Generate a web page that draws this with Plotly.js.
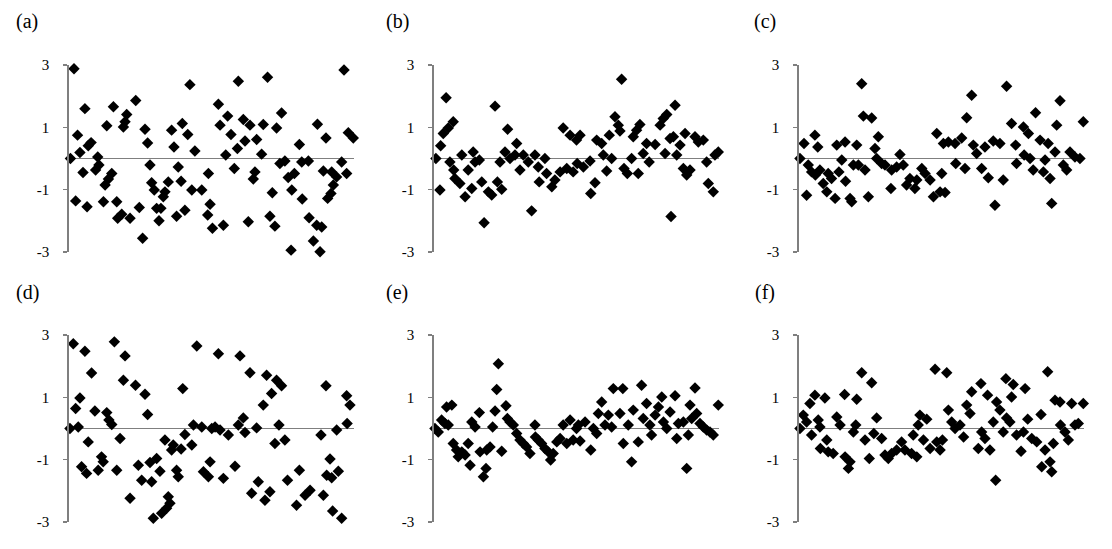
<!DOCTYPE html>
<html>
<head>
<meta charset="utf-8">
<script src="https://cdn.plot.ly/plotly-3.0.1.min.js"></script>
<style>html,body{margin:0;padding:0;background:#fff;}#chart{width:1112px;height:549px;}</style>
</head>
<body>
<div id="chart"></div>
<script>
// ---------- data (sample index, standardized residual) ----------
const panelLabels = ['(a)', '(b)', '(c)', '(d)', '(e)', '(f)'];
const tickVals = [3, 1, -1, -3];
const tickText = ['3', '1', '-1', '-3'];

const aX = [0.6,2.1,2.8,3.6,4.6,5.9,6.7,7.6,8.1,9.3,11.2,12.1,12.6,14.5,15.2,15.9,16.6,18.0,18.7,20.1,20.5,22.2,22.9,23.6,24.3,25.7,28.1,29.6,31.0,32.0,33.1,34.1,34.8,35.9,36.9,37.9,38.7,39.7,40.4,41.8,43.2,44.2,45.3,46.0,47.2,47.7,48.8,50.0,50.9,51.7,53.0,55.9,58.4,58.7,59.4,60.4,62.9,63.6,65.0,66.0,66.8,68.2,69.6,70.9,71.3,73.4,74.1,75.5,76.2,77.6,78.3,79.0,81.1,81.8,83.6,84.6,85.6,86.7,87.4,88.8,89.5,90.9,92.3,93.5,93.8,94.9,97.0,98.0,98.2,100.8,101.1,102.9,104.3,104.6,105.7,106.4,107.1,108.2,108.9,110.3,110.6,111.3,112.7,114.8,115.8,116.9,117.6,119.7,120.4];
const aY = [0.00,2.88,-1.36,0.75,0.19,-0.45,1.60,-1.55,0.41,0.51,-0.37,0.05,-0.21,-1.39,-0.85,1.05,-0.66,-0.48,1.66,-1.39,-1.92,-1.79,1.01,1.18,1.41,-1.92,1.86,-1.57,-2.56,0.94,0.50,-0.21,-0.78,-1.01,-1.60,-2.00,-1.60,-1.23,-1.07,-0.75,0.91,0.37,-1.85,-0.27,-0.73,1.12,-1.66,0.77,2.37,-1.01,0.24,-1.01,-1.81,-0.48,-1.47,-2.24,1.74,1.07,-2.14,0.11,1.36,0.77,-0.32,0.32,2.48,1.25,0.56,-2.03,1.07,-0.66,-0.43,0.61,0.14,1.09,2.61,-1.85,-1.10,-2.17,0.98,-0.16,1.46,-0.08,-0.61,-2.94,-1.01,-0.48,0.45,-0.11,-1.30,-0.08,-1.90,-2.65,-2.14,1.10,-2.99,-2.20,-0.40,0.66,-1.28,-1.12,-0.43,-0.85,-0.59,-0.11,2.84,-0.48,0.83,0.66,-0.85];

const bX = [0.8,2.5,2.8,3.9,5.1,6.0,6.7,8.1,8.3,8.8,10.9,11.7,13.1,14.4,15.9,16.5,17.3,19.1,20.1,21.1,22.9,24.3,25.7,26.7,27.8,28.5,29.9,31.0,32.0,34.1,34.8,36.2,37.6,39.7,41.1,42.5,43.9,44.3,46.7,47.4,49.6,50.9,53.1,54.4,55.9,57.3,58.6,60.0,60.3,61.5,62.9,65.7,66.0,67.8,68.5,70.6,71.3,72.7,73.8,74.8,76.2,77.6,78.3,79.0,80.0,81.4,83.2,83.9,85.3,86.0,86.7,88.1,89.5,90.6,93.1,95.2,96.5,97.3,98.0,99.4,99.8,100.8,101.5,102.2,103.6,105.0,105.7,106.4,107.8,109.9,111.3,113.4,114.8,115.5,117.6,118.3,119.7,120.4,121.1];
const bY = [0.00,-1.01,0.41,0.80,1.95,0.98,-0.11,1.18,-0.37,-0.64,-0.80,0.11,-1.23,-0.37,-0.96,0.21,-0.11,-0.05,-0.75,-2.06,-1.07,-1.17,1.68,-0.75,-0.11,-0.99,0.21,0.94,0.00,0.11,0.48,-0.37,0.11,-0.11,-1.68,0.11,-0.27,-0.75,0.00,-0.48,-0.91,-0.69,-0.43,0.98,-0.32,0.75,-0.43,0.59,-0.16,0.75,-0.27,-0.08,-1.12,-0.78,0.59,0.48,0.11,-0.40,0.75,0.00,1.34,1.07,0.88,2.54,-0.32,-0.48,0.00,0.70,0.91,-0.48,1.09,0.16,0.48,-0.11,0.45,1.07,1.28,0.16,1.41,0.64,-1.86,0.70,1.71,0.11,0.43,-0.32,0.80,-0.53,-0.37,0.70,0.53,0.59,-0.11,-0.80,-1.07,0.11,0.21,-0.21,-0.08];

const cX = [0.4,2.1,3.2,3.9,5.3,6.7,6.9,7.9,8.8,10.2,11.7,12.3,13.7,15.2,15.9,16.8,18.0,19.4,19.6,21.5,22.2,22.9,24.3,25.0,26.4,27.1,27.8,29.2,30.6,32.0,32.7,33.4,34.8,36.2,38.7,39.0,41.1,42.5,43.9,45.3,46.7,48.8,49.6,51.7,53.1,55.2,56.6,58.0,59.4,60.1,60.8,61.5,62.9,65.7,66.0,68.5,69.9,70.6,72.7,73.4,74.8,76.9,78.3,79.7,81.8,82.5,84.6,86.0,87.4,89.5,91.2,91.6,94.5,94.8,96.6,97.3,98.6,99.6,101.5,102.9,103.6,104.9,105.7,106.4,107.8,108.5,109.9,111.3,112.7,114.1,116.2,118.3,119.7,120.7];
const cY = [0.00,0.48,-1.18,-0.21,-0.43,0.75,-0.53,0.37,-0.37,-0.80,-1.07,-0.48,-0.64,-1.28,0.43,-0.43,-0.05,0.53,-0.73,-1.28,-1.39,-0.21,0.43,-0.21,2.40,1.36,-0.37,-1.23,1.30,0.32,0.00,0.70,-0.16,-0.21,-0.96,-0.37,-0.27,0.13,-0.21,-0.85,-0.64,-0.96,-0.69,-0.32,-0.48,-0.69,-1.23,0.80,-1.07,-0.48,0.48,-1.09,0.53,0.48,-0.16,0.66,-0.32,1.31,2.03,0.43,0.16,-0.32,0.37,-0.62,0.56,-1.50,0.48,-0.69,2.32,1.12,0.43,-0.16,1.01,0.11,0.80,0.00,-0.37,1.47,0.59,-0.43,-0.05,0.48,-0.64,-1.44,0.21,1.07,1.85,-0.21,-0.37,0.21,0.05,0.00,1.18,-0.43];

const dX = [0.4,1.8,2.8,3.9,4.6,5.3,6.7,7.4,8.1,9.5,10.9,12.3,13.7,14.4,15.9,16.8,18.0,19.1,20.1,21.5,22.9,23.6,25.7,28.0,29.2,30.6,32.0,33.1,34.1,34.8,35.5,36.9,38.3,39.0,40.4,41.1,41.8,42.5,43.2,43.9,45.3,46.0,47.2,47.9,48.8,51.7,52.4,53.8,55.9,56.6,58.7,59.4,60.1,61.5,62.9,63.6,65.0,67.1,69.9,71.3,72.0,73.4,74.1,76.2,76.9,79.0,79.7,81.8,82.5,83.2,84.6,85.3,86.7,87.4,88.4,89.5,90.9,92.0,95.8,97.0,99.4,101.5,106.1,107.1,108.2,108.5,109.9,110.6,111.0,112.7,113.4,114.8,116.9,117.1,118.3,120.4];
const dY = [0.00,2.72,0.64,0.05,0.98,-1.23,2.48,-1.44,-0.43,1.78,0.56,-1.34,-0.91,-1.07,0.51,0.27,0.13,2.78,-1.34,-0.32,1.55,2.33,-2.24,1.39,-1.18,-1.66,1.10,0.45,-1.09,-1.71,-2.88,-0.96,-1.37,-2.72,-0.37,-2.56,-2.19,-2.40,-0.69,-0.53,-1.34,-1.55,-0.66,1.28,-0.19,-0.53,0.11,2.65,0.05,-1.39,-1.55,-1.07,0.00,0.05,2.40,-0.05,-1.60,-0.21,-1.21,0.11,2.33,0.34,-0.13,1.79,-2.08,0.02,-1.71,0.75,-2.30,1.71,-2.03,1.12,-0.48,1.55,0.11,1.37,-0.37,-1.66,-2.46,-1.34,-2.14,-1.98,-0.21,-2.14,1.37,-1.50,-0.98,-1.58,-2.65,-0.05,-1.37,-2.88,1.05,0.16,0.75,0.16];

const eX = [0.4,1.8,3.2,4.6,5.3,6.0,7.5,8.1,9.5,10.2,11.7,13.1,14.4,15.2,15.9,17.3,19.1,19.4,20.8,21.9,22.2,23.6,24.7,25.7,26.4,27.1,28.5,30.3,30.9,32.0,33.4,34.8,36.2,37.6,39.0,40.4,42.5,42.7,43.9,45.3,46.7,48.1,49.1,50.2,51.7,53.1,54.4,55.9,57.3,58.6,60.0,60.8,61.5,63.6,66.0,67.1,68.5,69.2,70.6,72.0,73.4,74.8,75.5,78.3,79.5,79.7,81.8,83.2,83.9,86.0,87.4,88.1,89.5,90.9,91.6,93.1,94.5,95.9,96.6,98.0,99.4,101.5,102.2,102.9,105.0,106.4,107.1,107.8,108.5,109.9,110.6,112.0,113.4,114.8,116.2,117.6,119.7,120.4,121.1];
const eY = [0.00,-0.11,0.27,0.16,0.69,0.11,0.75,-0.48,-0.69,-0.91,-0.75,-0.85,-0.48,-1.18,0.21,0.05,0.51,-0.75,-1.55,-1.28,-0.69,-0.59,0.05,0.56,1.25,2.08,-0.73,0.73,0.32,0.21,0.11,-0.16,-0.37,-0.48,-0.59,-0.80,0.11,-0.27,-0.37,-0.48,-0.64,-0.75,-1.01,-0.80,-0.43,-0.32,0.11,-0.48,0.27,-0.37,0.00,0.11,-0.40,0.21,-0.69,0.00,-0.16,0.48,0.85,0.11,0.43,0.05,1.28,0.48,1.28,-0.48,0.11,-1.07,0.59,-0.43,1.39,0.32,0.80,0.11,-0.21,0.43,0.69,1.01,0.21,0.00,0.53,1.05,-0.32,0.16,0.21,-1.28,-0.21,0.75,0.32,1.30,0.48,0.16,0.05,-0.05,-0.11,-0.21,0.75,-0.21,-0.32];

const fX = [0.4,1.8,3.2,4.6,5.3,6.7,8.1,8.8,9.0,10.9,11.7,12.3,14.4,15.9,17.3,19.2,19.4,20.8,21.5,22.9,23.9,24.3,26.4,27.8,29.6,30.6,31.5,32.7,34.8,36.2,37.6,39.0,41.1,43.2,44.6,47.4,48.1,49.6,50.2,50.9,52.4,53.8,55.2,57.3,58.0,59.4,60.4,62.2,62.9,64.3,65.7,67.8,69.3,70.6,72.0,72.7,75.5,76.6,76.9,78.3,79.4,80.4,81.8,82.8,83.2,84.6,86.0,87.1,87.4,88.8,89.5,90.2,91.6,93.5,94.5,95.2,96.3,98.0,100.1,101.9,102.2,103.6,104.7,105.7,106.4,107.1,107.8,109.9,110.1,112.0,113.4,114.8,116.2,117.6,119.7,120.4];
const fY = [0.00,0.43,0.21,0.80,-0.21,1.07,0.27,0.05,-0.64,0.98,-0.37,-0.75,-0.80,0.37,0.11,1.09,-0.91,-1.28,-1.07,-0.11,0.11,0.94,1.79,-0.37,-0.96,1.47,-0.16,0.34,-0.32,-0.85,-0.96,-0.80,-0.69,-0.43,-0.69,-0.80,-0.21,-0.91,0.11,0.43,-0.37,0.30,-0.64,1.90,-0.43,-0.69,-0.37,1.79,0.59,0.21,0.00,0.11,-0.27,0.75,0.48,1.18,-0.64,1.44,-0.11,-0.32,1.07,-0.69,0.21,-1.66,0.85,0.59,-0.11,1.60,0.34,0.21,1.01,1.41,-0.21,-0.73,-0.11,1.28,0.30,-0.32,-0.43,0.45,-1.23,-0.69,1.82,-1.07,-1.39,-0.48,0.91,0.85,0.11,-0.11,-0.37,0.80,0.11,0.16,0.80,-0.16];

const seriesX = [aX, bX, cX, dX, eX, fX];
const seriesY = [aY, bY, cY, dY, eY, fY];

// ---------- layout geometry ----------
const W = 1112, H = 549;
const colLeft = [69, 434, 799];     // y-axis positions (px)
const plotW = 285;
const rowTop = [65, 335];           // pixel of y=3
const rowBot = [252, 522];          // pixel of y=-3
const labelPos = [[27, 22], [397, 22], [765, 22], [27, 292], [397, 292], [765, 292]];
const axisGrey = '#7f7f7f';
const serif = 'Liberation Serif, Times New Roman, serif';

const traces = [];
const layout = {
  width: W, height: H,
  margin: {l: 0, r: 0, t: 0, b: 0},
  paper_bgcolor: '#ffffff',
  plot_bgcolor: 'rgba(0,0,0,0)',
  showlegend: false,
  font: {family: serif, color: '#000'},
  annotations: []
};

for (let i = 0; i < 6; i++) {
  const col = i % 3, row = Math.floor(i / 3);
  const sfx = i === 0 ? '' : String(i + 1);
  traces.push({
    type: 'scatter', mode: 'markers',
    x: seriesX[i], y: seriesY[i],
    xaxis: 'x' + sfx, yaxis: 'y' + sfx,
    marker: {symbol: 'diamond', size: 8.8, color: '#000000', line: {width: 0}},
    cliponaxis: false, hoverinfo: 'skip'
  });
  layout['xaxis' + sfx] = {
    domain: [colLeft[col] / W, (colLeft[col] + plotW) / W],
    range: [0, 120],
    anchor: 'y' + sfx,
    showline: false, showgrid: false, zeroline: false,
    showticklabels: false, ticks: ''
  };
  layout['yaxis' + sfx] = {
    domain: [1 - rowBot[row] / H, 1 - rowTop[row] / H],
    range: [-3, 3],
    anchor: 'x' + sfx,
    tickvals: tickVals, ticktext: tickText,
    ticks: 'outside', ticklen: 4, tickwidth: 1.6, tickcolor: axisGrey,
    ticklabelstandoff: 11,
    showline: true, linecolor: axisGrey, linewidth: 1.8,
    showgrid: false,
    zeroline: true, zerolinecolor: axisGrey, zerolinewidth: 1.8,
    tickfont: {family: serif, size: 15, color: '#000'}
  };
  layout.annotations.push({
    xref: 'paper', yref: 'paper',
    x: labelPos[i][0] / W, y: 1 - labelPos[i][1] / H,
    xanchor: 'center', yanchor: 'middle',
    text: panelLabels[i], showarrow: false,
    font: {family: serif, size: 20, color: '#000'}
  });
}

Plotly.newPlot('chart', traces, layout, {staticPlot: true, displayModeBar: false});
</script>
</body>
</html>
